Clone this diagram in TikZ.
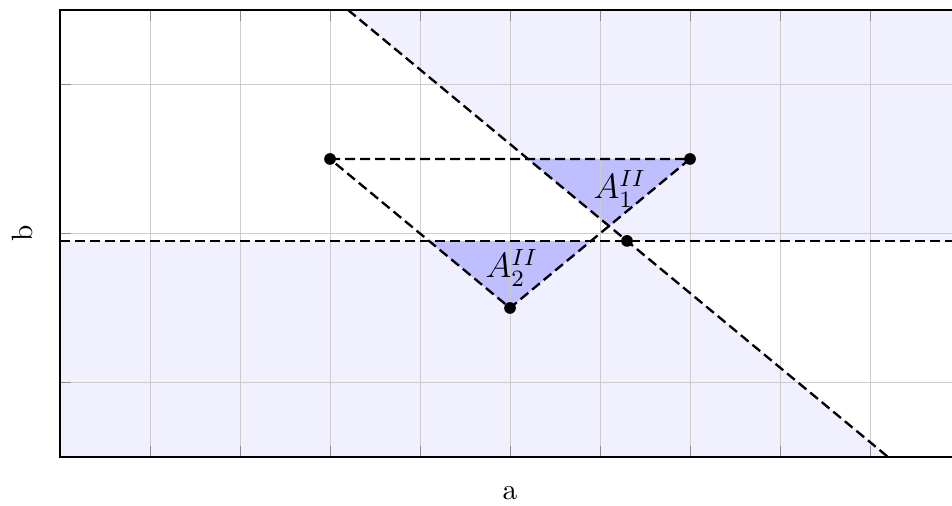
\documentclass[tikz,border=0pt]{standalone}
\usepackage{amsmath}
\usepackage{amssymb}
\usepackage{tikz}

\tikzset{
  dashline/.style={thick,dash pattern=on 0.12cm off 0.06cm},
  gridline/.style={black!20,line width=0.35pt},
  tickline/.style={black!45,line width=0.35pt},
  arealabel/.style={font=\large,inner sep=1pt},
}

\begin{document}
\begin{tikzpicture}[x=1.08cm,y=1.788cm]
			\useasboundingbox (-0.667,0.171) rectangle (9.911,3.567);
			\clip (-0.667,0.171) rectangle (9.911,3.567);
			% corner points
			\coordinate (P1) at (3,2.5);
			\coordinate (P2) at (7,2.5);
			\coordinate (P3) at (5,1.5);
			\coordinate (Q) at (6.3,1.95);
			\coordinate (Htop) at (3.2,3.5);
			\coordinate (Hbot) at (9.2,0.5);
			\coordinate (Lleft) at (0,1.95);
			\coordinate (Lright) at (10,1.95);
			% light regions
			\fill[blue!6] (Htop) -- (10,3.5) -- (Lright) -- (Q) -- cycle;
			\fill[blue!6] (Lleft) -- (Q) -- (Hbot) -- (0,0.5) -- cycle;
			% the two areas
			\fill[blue!25] (5.2,2.5) -- (P2) -- (6.1,2.05) -- cycle;
			\fill[blue!25] (4.1,1.95) -- (5.9,1.95) -- (P3) -- cycle;
			% grid and ticks
			\foreach \i in {1,...,9} {
				\draw[gridline] (\i,0.5) -- (\i,3.5);
				\draw[tickline] (\i,0.5) -- (\i,0.574);
				\draw[tickline] (\i,3.5) -- (\i,3.426);
			}
			\foreach \j in {1,2,3} {
				\draw[gridline] (0,\j) -- (10,\j);
				\draw[tickline] (0,\j) -- (0.122,\j);
			}
			\draw[thin] (0,0.5) rectangle (10,3.5);
			% the lines
			\draw[dashline] (Lleft) -- (Lright);
			\draw[dashline] (Htop) -- (Hbot);
			\draw[dashline] (P1) -- (P2) -- (P3) -- cycle;
			% points
			\foreach \p in {P1,P2,P3,Q}
				\fill (\p) circle (2pt);
			% labels
			\node[arealabel] (A1) at (6.22,2.3) {$A^{II}_1$};
			\node[arealabel] (A2) at (5.02,1.77) {$A^{II}_2$};
			\node (xlab) at (5,0.257) {a};
			\node[rotate=90] (ylab) at (-0.422,2.0) {b};
		\end{tikzpicture}
\end{document}
